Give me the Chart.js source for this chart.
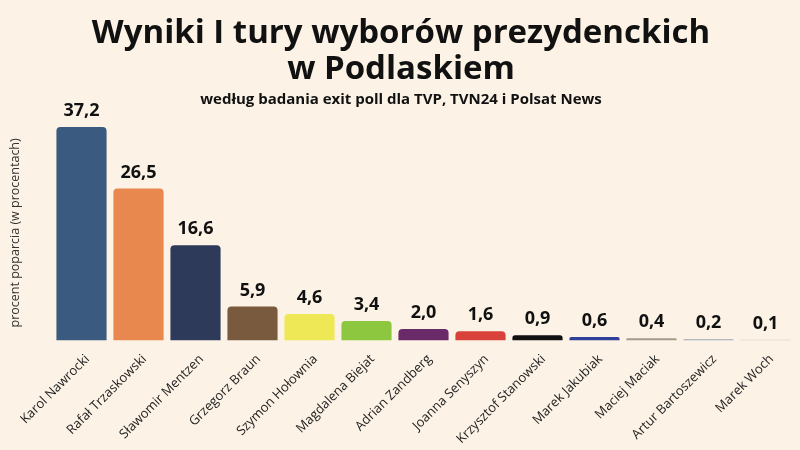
<!DOCTYPE html>
<html><head><meta charset="utf-8">
<script src="https://cdn.jsdelivr.net/npm/chart.js@4"></script>
<style>html,body{margin:0;padding:0;background:#fcf3e6;}#w{width:800px;height:450px;}</style>
</head><body><div id="w"><canvas id="c"></canvas></div>
<script>
const candidates = ["Karol Nawrocki","Rafał Trzaskowski","Sławomir Mentzen","Grzegorz Braun","Szymon Hołownia","Magdalena Biejat","Adrian Zandberg","Joanna Senyszyn","Krzysztof Stanowski","Marek Jakubiak","Maciej Maciak","Artur Bartoszewicz","Marek Woch"];
const support = [37.2,26.5,16.6,5.9,4.6,3.4,2.0,1.6,0.9,0.6,0.4,0.2,0.1];
const barColors = ["#3b5a80","#e8884f","#2e3a5a","#7a5a3e","#eee857","#8dc63f","#6a2a6a","#d9413b","#111111","#2f3f9a","#a39c8c","#9aa6b4","#d0ccc4"];

const valueLabels = {
  id:'valueLabels',
  afterDatasetsDraw(chart){
    const ctx = chart.ctx;
    const meta = chart.getDatasetMeta(0);
    ctx.save();
    ctx.font = 'bold 18px "Open Sans"';
    ctx.fillStyle = '#111';
    ctx.textAlign = 'center';
    ctx.textBaseline = 'bottom';
    meta.data.forEach((bar,i)=>{
      ctx.fillText(support[i].toFixed(1).replace('.',','), bar.x, bar.y-7);
    });
    ctx.restore();
  }
};

new Chart(document.getElementById('c'),{
  type:'bar',
  data:{labels:candidates,datasets:[{data:support,backgroundColor:barColors,borderRadius:{topLeft:4,topRight:4},borderSkipped:'bottom',barPercentage:0.88,categoryPercentage:1}]},
  options:{
    responsive:true,maintainAspectRatio:false,animation:false,
    layout:{padding:{left:8,right:6,top:16,bottom:0}},
    plugins:{
      legend:{display:false},tooltip:{enabled:false},
      title:{display:true,text:["Wyniki I tury wyborów prezydenckich","w Podlaskiem"],font:{family:'"Open Sans"',size:33,weight:'bold',lineHeight:1.08},color:'#111',padding:{top:0,bottom:3}},
      subtitle:{display:true,text:"według badania exit poll dla TVP, TVN24 i Polsat News",font:{family:'"Open Sans"',size:15,weight:'bold'},color:'#111',padding:{top:0,bottom:17}}
    },
    scales:{
      x:{grid:{display:false},border:{display:false},ticks:{color:'#222',font:{family:'"Open Sans"',size:13},maxRotation:45,minRotation:45,padding:3,labelOffset:6}},
      y:{min:0,max:37.5,grid:{display:false},border:{display:false},ticks:{display:false},title:{display:true,text:'procent poparcia (w procentach)',color:'#333',font:{family:'"Open Sans"',size:12.5},padding:{top:0,bottom:22}}}
    }
  },
  plugins:[valueLabels]
});
</script></body></html>
